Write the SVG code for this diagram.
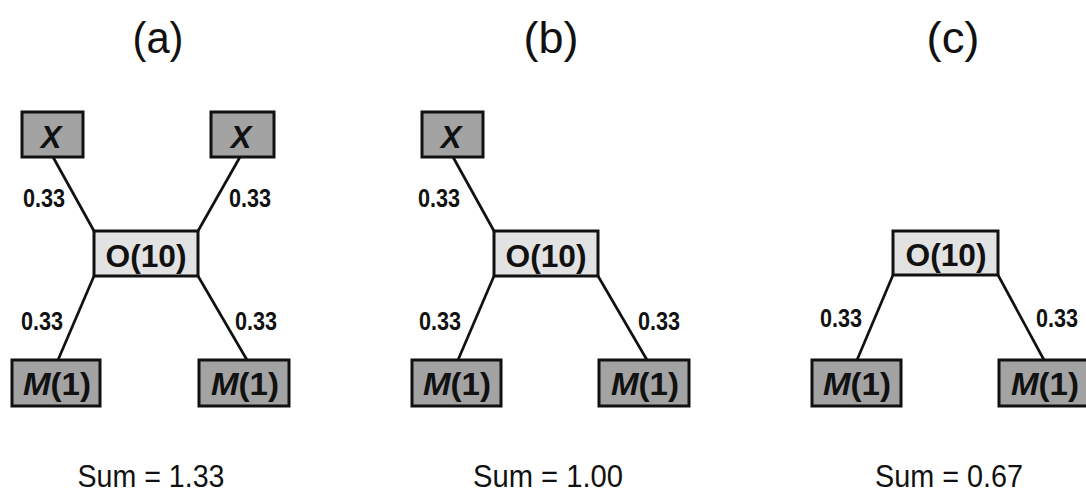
<svg xmlns="http://www.w3.org/2000/svg" width="1086" height="492" viewBox="0 0 1086 492">
<style>
.dark{fill:#a3a3a3;stroke:#111;stroke-width:3}
.light{fill:#e2e2e2;stroke:#111;stroke-width:3}
.lbl{font-family:"Liberation Sans",Arial,sans-serif;font-weight:bold;fill:#111;text-anchor:middle}
.w{font-family:"Liberation Sans",Arial,sans-serif;font-size:26px;font-weight:bold;fill:#111;text-anchor:middle}
.ttl{font-family:"Liberation Sans",Arial,sans-serif;font-size:44px;fill:#111;text-anchor:middle}
.sum{font-family:"Liberation Sans",Arial,sans-serif;font-size:31px;fill:#111;text-anchor:middle}
.edge{stroke:#111;stroke-width:2.7;fill:none}
</style>
<rect width="1086" height="492" fill="#fff"/>
<text class="ttl" x="158" y="53" textLength="51" lengthAdjust="spacingAndGlyphs">(a)</text>
<text class="ttl" x="551" y="53" textLength="55" lengthAdjust="spacingAndGlyphs">(b)</text>
<text class="ttl" x="953" y="53" textLength="53" lengthAdjust="spacingAndGlyphs">(c)</text>
<g id="connectors">
<line class="edge" x1="53" y1="157" x2="94" y2="231"/>
<line class="edge" x1="240" y1="157" x2="198" y2="231"/>
<line class="edge" x1="94" y1="276" x2="58" y2="360"/>
<line class="edge" x1="198" y1="276" x2="247" y2="360"/>
<line class="edge" x1="453" y1="157" x2="494" y2="231"/>
<line class="edge" x1="494" y1="276" x2="458" y2="360"/>
<line class="edge" x1="598" y1="276" x2="647" y2="360"/>
<line class="edge" x1="893" y1="275" x2="857" y2="360"/>
<line class="edge" x1="998" y1="275" x2="1044" y2="360"/>
<text class="w" x="44" y="207" textLength="42" lengthAdjust="spacingAndGlyphs">0.33</text>
<text class="w" x="250" y="207" textLength="42" lengthAdjust="spacingAndGlyphs">0.33</text>
<text class="w" x="42" y="330" textLength="42" lengthAdjust="spacingAndGlyphs">0.33</text>
<text class="w" x="256" y="330" textLength="42" lengthAdjust="spacingAndGlyphs">0.33</text>
<text class="w" x="439" y="207" textLength="42" lengthAdjust="spacingAndGlyphs">0.33</text>
<text class="w" x="440" y="330" textLength="42" lengthAdjust="spacingAndGlyphs">0.33</text>
<text class="w" x="659" y="330" textLength="42" lengthAdjust="spacingAndGlyphs">0.33</text>
<text class="w" x="841" y="327" textLength="42" lengthAdjust="spacingAndGlyphs">0.33</text>
<text class="w" x="1057" y="327" textLength="42" lengthAdjust="spacingAndGlyphs">0.33</text>
</g>
<g id="a-x1"><rect class="dark" x="22" y="112" width="61" height="45"/><text class="lbl" x="51" y="148" font-size="31" font-style="italic">X</text></g>
<g id="a-x2"><rect class="dark" x="211" y="112" width="63" height="45"/><text class="lbl" x="241" y="148" font-size="31" font-style="italic">X</text></g>
<g id="a-o"><rect class="light" x="94" y="231" width="104" height="45"/><text class="lbl" x="146" y="267" font-size="32" textLength="81" lengthAdjust="spacingAndGlyphs">O(10)</text></g>
<g id="a-m1"><rect class="dark" x="12" y="360" width="88" height="46"/><text class="lbl" x="57" y="395" font-size="32" textLength="68" lengthAdjust="spacingAndGlyphs"><tspan font-style="italic">M</tspan>(1)</text></g>
<g id="a-m2"><rect class="dark" x="199" y="360" width="90" height="46"/><text class="lbl" x="245" y="395" font-size="32" textLength="68" lengthAdjust="spacingAndGlyphs"><tspan font-style="italic">M</tspan>(1)</text></g>
<g id="b-x"><rect class="dark" x="422" y="112" width="61" height="45"/><text class="lbl" x="451" y="148" font-size="31" font-style="italic">X</text></g>
<g id="b-o"><rect class="light" x="494" y="231" width="104" height="45"/><text class="lbl" x="546" y="267" font-size="32" textLength="81" lengthAdjust="spacingAndGlyphs">O(10)</text></g>
<g id="b-m1"><rect class="dark" x="412" y="360" width="89" height="46"/><text class="lbl" x="457" y="395" font-size="32" textLength="68" lengthAdjust="spacingAndGlyphs"><tspan font-style="italic">M</tspan>(1)</text></g>
<g id="b-m2"><rect class="dark" x="599" y="360" width="90" height="46"/><text class="lbl" x="645" y="395" font-size="32" textLength="68" lengthAdjust="spacingAndGlyphs"><tspan font-style="italic">M</tspan>(1)</text></g>
<g id="c-o"><rect class="light" x="893" y="231" width="105" height="44"/><text class="lbl" x="946" y="266" font-size="32" textLength="81" lengthAdjust="spacingAndGlyphs">O(10)</text></g>
<g id="c-m1"><rect class="dark" x="812" y="360" width="89" height="46"/><text class="lbl" x="857" y="395" font-size="32" textLength="68" lengthAdjust="spacingAndGlyphs"><tspan font-style="italic">M</tspan>(1)</text></g>
<g id="c-m2"><rect class="dark" x="999" y="360" width="92" height="46"/><text class="lbl" x="1045" y="395" font-size="32" textLength="68" lengthAdjust="spacingAndGlyphs"><tspan font-style="italic">M</tspan>(1)</text></g>
<text class="sum" x="151" y="487" textLength="147" lengthAdjust="spacingAndGlyphs">Sum = 1.33</text>
<text class="sum" x="548" y="487" textLength="150" lengthAdjust="spacingAndGlyphs">Sum = 1.00</text>
<text class="sum" x="949" y="487" textLength="148" lengthAdjust="spacingAndGlyphs">Sum = 0.67</text>
</svg>
